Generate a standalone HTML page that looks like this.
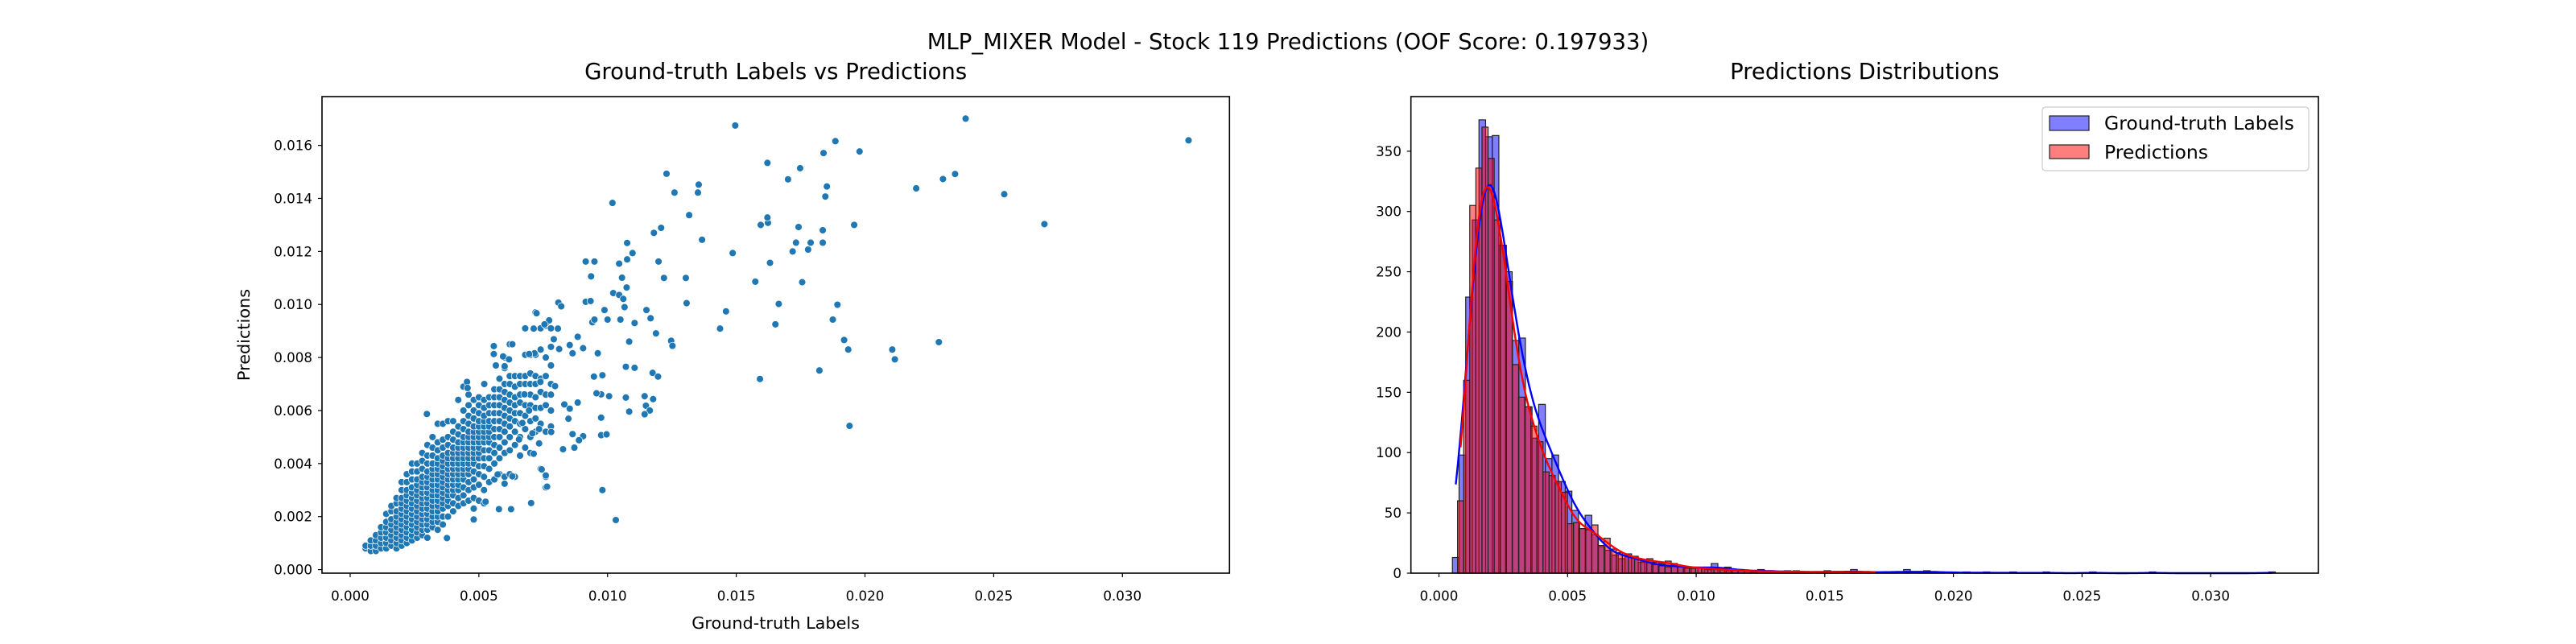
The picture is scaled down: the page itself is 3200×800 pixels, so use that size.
<!DOCTYPE html>
<html><head><meta charset="utf-8"><style>
html,body{margin:0;padding:0;background:#fff;}
svg{display:block;font-family:"DejaVu Sans","Liberation Sans",sans-serif;}
</style></head><body>
<svg id="fig" width="3200" height="800" viewBox="0 0 3200 800" xmlns="http://www.w3.org/2000/svg">
<rect x="0" y="0" width="3200" height="800" fill="#fff"/>
<text x="1600" y="61" font-size="27.5" text-anchor="middle" fill="#000">MLP_MIXER Model - Stock 119 Predictions (OOF Score: 0.197933)</text>
<g id="left"></g>
<g id="right"></g>
</svg>
<script>
// ---------- data (scatter, values in units of 1e-3) ----------
const denseCols = [
[0.6,[0.8,0.9]],[0.8,[0.7,0.9,1.1]],[1.0,[0.7,0.9,1.1,1.3]],[1.2,[0.8,1.0,1.2,1.4,1.6]],
[1.4,[0.8,1.0,1.2,1.4,1.6,1.8,2.1]],[1.6,[0.9,1.1,1.3,1.5,1.7,1.9,2.2,2.4]],
[1.8,[0.8,1.0,1.2,1.4,1.6,1.8,2.0,2.2,2.5,2.7]],[2.0,[0.9,1.1,1.3,1.5,1.7,1.9,2.1,2.3,2.5,2.7,3.0,3.3]],
[2.2,[1.0,1.2,1.4,1.6,1.8,2.0,2.2,2.4,2.6,2.8,3.0,3.3,3.6]],[2.4,[1.1,1.3,1.5,1.7,1.9,2.1,2.3,2.5,2.7,2.9,3.1,3.4,3.7,4.0]],
[2.6,[1.2,1.4,1.6,1.8,2.0,2.2,2.4,2.6,2.8,3.0,3.2,3.4,3.7,4.0]],[2.8,[1.3,1.5,1.7,1.9,2.1,2.3,2.5,2.7,2.9,3.1,3.3,3.5,3.8,4.1,4.4]],
[3.0,[1.2,1.5,1.7,1.9,2.1,2.3,2.5,2.7,2.9,3.1,3.3,3.5,3.7,4.0,4.3,4.7]],[3.2,[1.6,1.8,2.0,2.2,2.4,2.6,2.8,3.0,3.2,3.4,3.6,3.8,4.0,4.3,4.6,5.0]],
[3.4,[1.5,1.8,2.0,2.2,2.4,2.6,2.8,3.0,3.2,3.4,3.6,3.8,4.0,4.2,4.5,4.8,5.5]],[3.6,[1.7,2.0,2.3,2.5,2.7,2.9,3.1,3.3,3.5,3.7,3.9,4.1,4.3,4.6,4.9,5.5]],
[3.8,[2.0,2.4,2.6,2.8,3.0,3.2,3.4,3.6,3.8,4.0,4.2,4.4,4.7,5.0,5.6]],[4.0,[2.2,2.5,2.8,3.0,3.2,3.4,3.6,3.8,4.0,4.2,4.4,4.6,4.9,5.2,5.6]],
[4.2,[2.4,2.7,3.0,3.2,3.4,3.6,3.8,4.0,4.2,4.4,4.6,4.8,5.1,5.4,6.4]],[4.4,[2.5,2.8,3.1,3.4,3.6,3.8,4.0,4.2,4.4,4.6,4.8,5.0,5.3,5.6,6.0,6.9]],
[4.6,[2.6,3.0,3.3,3.6,3.8,4.0,4.2,4.4,4.6,4.8,5.0,5.2,5.5,5.8,6.2,6.6]],[4.8,[2.3,2.7,3.1,3.4,3.7,4.0,4.2,4.4,4.6,4.8,5.0,5.2,5.4,5.7,6.0,6.4]],
[5.0,[2.6,3.2,3.6,3.9,4.2,4.4,4.6,4.8,5.0,5.2,5.4,5.6,5.9,6.2,6.5]],[5.2,[2.5,3.0,3.5,3.9,4.2,4.5,4.8,5.0,5.2,5.4,5.6,5.8,6.1,6.4,7.0]],
[5.4,[3.3,3.8,4.2,4.5,4.8,5.0,5.2,5.4,5.6,5.9,6.2,6.5]],[5.6,[3.4,4.0,4.4,4.7,5.0,5.3,5.6,5.9,6.2,6.5,6.8]],
[5.8,[3.6,4.2,4.6,5.0,5.3,5.6,5.9,6.2,6.5,6.8,7.2]],[6.0,[3.5,4.4,4.8,5.2,5.5,5.8,6.1,6.4,6.7,7.0,7.6,8.0]],
[6.2,[3.6,4.5,5.0,5.4,5.7,6.0,6.3,6.6,7.0,7.3,8.5]],[6.4,[3.5,4.7,5.2,5.6,5.9,6.2,6.5,6.9,7.3]],
[6.6,[4.3,5.0,5.5,5.9,6.3,6.6,7.0,7.3]],[6.8,[4.6,5.3,5.8,6.2,6.6,7.0,7.3,8.1,9.1]],
[7.0,[4.4,5.0,5.6,6.2,6.6,7.0,7.4,8.1]],[7.2,[5.2,5.7,6.1,6.5,7.0,7.3,8.1,9.7]],
[7.4,[3.8,5.5,6.1,6.7,7.2,8.3,9.1]],[7.6,[3.1,3.5,5.2,6.2,6.6,7.3,8.0,9.2]],[7.8,[5.4,6.0,6.6,7.0,7.7,8.4,9.1]]
];
const sparseX = [8.09,8.2,7.73,7.55,7.13,8.07,7.91,8.12,8.53,8.84,9.05,8.64,9.15,9.34,9.41,9.88,10.0,9.49,9.15,9.49,9.36,10.22,10.45,10.61,10.66,10.5,10.56,10.74,10.76,10.45,10.76,10.97,10.19,11.8,12.08,11.98,12.19,11.51,11.67,11.05,11.88,12.47,12.52,10.84,10.71,11.05,11.75,11.96,10.84,10.71,11.44,11.77,11.49,11.64,11.44,10.06,9.75,9.57,9.47,9.8,9.62,9.75,9.96,9.75,9.05,8.64,8.89,8.71,8.27,8.48,8.53,8.32,7.81,7.44,7.6,7.65,7.03,9.8,10.32,8.84,7.34,7.13,7.96,7.39,7.34,7.08,6.77,6.95,6.69,6.56,6.3,6.0,5.73,5.78,6.25,5.26,4.8,3.76,2.98,7.24,7.16,6.95,6.3,5.58,5.58,5.94,6.17,5.66,6.0,5.21,4.54,4.56,
14.96,23.91,32.57,18.85,19.79,18.39,16.21,17.48,17.01,12.29,13.54,13.51,12.6,18.52,18.46,21.99,23.03,23.5,25.41,26.97,19.58,18.36,17.42,16.23,16.21,15.95,13.17,13.67,14.86,17.19,17.32,17.79,17.89,18.36,16.31,15.74,17.56,13.04,13.07,16.65,18.93,14.6,14.37,18.75,16.52,19.19,19.35,21.06,21.16,22.87,18.23,15.92,19.4];
const sparseY = [10.07,9.93,9.4,9.25,9.09,9.09,8.69,8.32,8.47,8.78,8.35,8.16,10.1,10.13,9.33,9.79,9.43,9.43,11.62,11.62,11.06,10.43,10.36,10.21,9.9,9.43,11.01,10.64,11.7,11.54,12.32,11.94,13.83,12.7,12.89,11.62,11.0,9.79,9.48,9.3,8.91,8.63,8.44,8.6,7.65,7.61,7.42,7.28,5.96,6.49,6.54,6.43,6.18,6.0,5.86,6.54,6.61,6.65,7.28,7.33,8.16,5.07,5.1,5.73,5.03,5.11,4.88,4.6,4.54,5.69,6.07,6.23,5.19,3.78,3.55,3.13,2.51,3.0,1.87,6.3,4.76,4.37,6.92,7.08,5.3,5.14,6.61,6.0,5.53,4.91,3.52,3.24,3.59,2.28,2.28,2.56,1.89,1.19,5.87,9.67,8.16,8.13,8.5,8.43,8.13,8.04,7.93,7.7,7.67,7.0,7.08,6.85,
16.75,17.01,16.19,16.16,15.77,15.71,15.34,15.14,14.72,14.93,14.52,14.22,14.22,14.45,14.07,14.38,14.73,14.92,14.16,13.03,13.0,12.8,12.92,13.08,13.28,13.0,13.37,12.44,11.94,12.0,12.33,12.07,12.33,12.33,11.57,10.86,10.84,11.0,10.05,10.02,9.99,9.74,9.09,9.43,9.25,8.66,8.3,8.3,7.93,8.58,7.51,7.19,5.42];
const scatterXTicks = ["0.000","0.005","0.010","0.015","0.020","0.025","0.030"];
const scatterYTicks = ["0.000","0.002","0.004","0.006","0.008","0.010","0.012","0.014","0.016"];

// ---------- data (histograms) ----------
const gtBinStart = 0.000523, gtBinWidth = 0.000258;
const gtCounts = [13,98,229,293,376,362,363,272,250,193,195,138,112,140,95,98,76,68,52,37,48,32,22,19,15,12,16,14,9,9,7,6,5,7,6,4,4,5,3,8,3,5,2,3,2,1,3,2,1,1,2,1,1,1,0,1,2,1,1,0,3,1,1,0,1,1,1,0,3,0,1,2,1,1,0,1,0,1,0,0,1,0,0,0,1,0,0,0,0,1,0,0,0,0,0,0,1,0,0,0,0,0,0,0,0,1,0,0,0,0,0,0,0,0,0,0,0,0,0,0,0,0,0,1];
const predBinStart = 0.000723, predBinWidth = 0.0002373;
const predCounts = [60,160,305,336,370,344,293,272,242,173,146,138,122,109,84,81,76,67,41,42,37,36,40,23,29,20,17,15,14,12,10,12,9,8,10,8,6,5,4,5,4,3,4,3,2,3,2,2,1,2,1,2,1,1,1,2,1,1,1,1,1,1,0,1,1,1,0,1,1];
const histYTicks = [0,50,100,150,200,250,300,350];
const histXTicks = ["0.000","0.005","0.010","0.015","0.020","0.025","0.030"];

const NS="http://www.w3.org/2000/svg";
function mk(tag, attrs, parent){const e=document.createElementNS(NS,tag);for(const k in attrs)e.setAttribute(k,attrs[k]);parent.appendChild(e);return e;}

// ---------- left scatter ----------
const L = document.getElementById('left');
const lx0=400,lx1=1527.3,ly0=120,ly1=712;
const sxMin=-0.001094,sxMax=0.03416,syMin=-0.000134,syMax=0.01784;
const sx=v=>lx0+(v-sxMin)/(sxMax-sxMin)*(lx1-lx0);
const sy=v=>ly1-(v-syMin)/(syMax-syMin)*(ly1-ly0);
let t=mk('text',{x:(lx0+lx1)/2,y:98,'font-size':27.5,'text-anchor':'middle',fill:'#000'},L);t.textContent='Ground-truth Labels vs Predictions';


const gx=[],gy=[];
denseCols.forEach(c=>c[1].forEach(y=>{gx.push(c[0]);gy.push(y);}));
sparseX.forEach((x,i)=>{gx.push(x);gy.push(sparseY[i]);});
const pts=mk('g',{},L);


gx.forEach((x,i)=>{
  const c=mk('circle',{cx:sx(x/1000),cy:sy(gy[i]/1000),r:4.4,fill:'#1f77b4',stroke:'#fff','stroke-width':0.7},pts);
  
  
});
let fr=mk('rect',{x:lx0,y:ly0,width:lx1-lx0,height:ly1-ly0,fill:'none',stroke:'#000','stroke-width':1.6},L);


scatterXTicks.forEach(s=>{const px=sx(parseFloat(s));
  mk('line',{x1:px,x2:px,y1:ly1,y2:ly1+5,stroke:'#000','stroke-width':1.2},L);
  const tt=mk('text',{x:px,y:746,'font-size':16.7,'text-anchor':'middle'},L);tt.textContent=s;
  
  });
scatterYTicks.forEach(s=>{const py=sy(parseFloat(s));
  mk('line',{x1:lx0-5,x2:lx0,y1:py,y2:py,stroke:'#000','stroke-width':1.2},L);
  const tt=mk('text',{x:388,y:py+6,'font-size':16.7,'text-anchor':'end'},L);tt.textContent=s;
  
  });
t=mk('text',{x:(lx0+lx1)/2,y:781,'font-size':20.8,'text-anchor':'middle'},L);t.textContent='Ground-truth Labels';


t=mk('text',{x:0,y:0,'font-size':20.8,'text-anchor':'middle',transform:'translate(310,416) rotate(-90)'},L);t.textContent='Predictions';



// ---------- right histogram ----------
const R=document.getElementById('right');
const rx0=1752.7,rx1=2880,ry0=120,ry1=712;
const hxMin=-0.00109,hxMax=0.03419,hyMax=395.3;
const hx=v=>rx0+(v-hxMin)/(hxMax-hxMin)*(rx1-rx0);
const hy=v=>ry1-v/hyMax*(ry1-ry0);
t=mk('text',{x:(rx0+rx1)/2,y:98,'font-size':27.5,'text-anchor':'middle'},R);t.textContent='Predictions Distributions';


function bars(counts,start,w,fill,name){
  const g=mk('g',{},R);
  
  
  counts.forEach((c,i)=>{ if(c<=0) return;
    const x0=hx(start+i*w),x1=hx(start+(i+1)*w);
    const b=mk('rect',{x:x0,y:hy(c),width:x1-x0,height:hy(0)-hy(c),fill:fill,stroke:'#222','stroke-width':1.2},g);
    
    
  });
}
function kde(counts,start,w,h,color,name){
  let xmin=start+w*0.5, xmax=start+w*(counts.length-0.5);
  const pts=[];
  for(let k=0;k<=400;k++){const x=xmin+(xmax-xmin)*k/400;let s=0;
    counts.forEach((c,i)=>{const m=start+(i+0.5)*w;const z=(x-m)/h;s+=c*Math.exp(-0.5*z*z);});
    s=s*w/(h*Math.sqrt(2*Math.PI));
    pts.push(hx(x).toFixed(1)+','+hy(s).toFixed(1));}
  const p=mk('polyline',{points:pts.join(' '),fill:'none',stroke:color,'stroke-width':2.4},R);
  
  
}
bars(gtCounts,gtBinStart,gtBinWidth,'rgba(0,0,255,0.5)','ground-truth-bars');
bars(predCounts,predBinStart,predBinWidth,'rgba(255,0,0,0.5)','prediction-bars');
kde(gtCounts,gtBinStart,gtBinWidth,0.00046,'#0000ff','ground-truth-kde');
kde(predCounts,predBinStart,predBinWidth,0.00040,'#ff0000','prediction-kde');
fr=mk('rect',{x:rx0,y:ry0,width:rx1-rx0,height:ry1-ry0,fill:'none',stroke:'#000','stroke-width':1.6},R);


histXTicks.forEach(s=>{const px=hx(parseFloat(s));
  mk('line',{x1:px,x2:px,y1:ry1,y2:ry1+5,stroke:'#000','stroke-width':1.2},R);
  const tt=mk('text',{x:px,y:746,'font-size':16.7,'text-anchor':'middle'},R);tt.textContent=s;
  
  });
histYTicks.forEach(v=>{const py=hy(v);
  mk('line',{x1:rx0-5,x2:rx0,y1:py,y2:py,stroke:'#000','stroke-width':1.2},R);
  const tt=mk('text',{x:1741,y:py+6,'font-size':16.7,'text-anchor':'end'},R);tt.textContent=String(v);
  
  });
// legend
const lg=mk('g',{},R);


mk('rect',{x:2537,y:133,width:331,height:79,rx:4,fill:'#fff','fill-opacity':0.8,stroke:'#ccc','stroke-width':1.2},lg);
mk('rect',{x:2546,y:144,width:49,height:18,fill:'rgba(0,0,255,0.5)',stroke:'#222','stroke-width':1.2},lg);
mk('rect',{x:2546,y:180,width:49,height:17,fill:'rgba(255,0,0,0.5)',stroke:'#222','stroke-width':1.2},lg);
t=mk('text',{x:2614,y:161,'font-size':23.5},lg);t.textContent='Ground-truth Labels';


t=mk('text',{x:2614,y:197,'font-size':23.5},lg);t.textContent='Predictions';


</script>
</body></html>
